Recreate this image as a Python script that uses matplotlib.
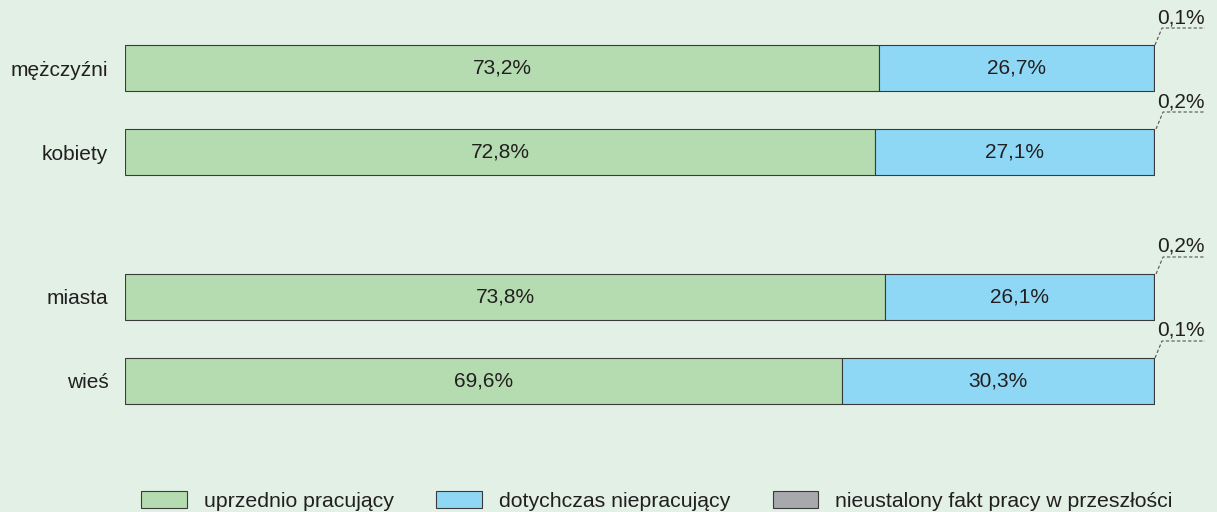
import matplotlib.pyplot as plt
from matplotlib.patches import Patch

categories = ["mężczyźni", "kobiety", "miasta", "wieś"]
worked_before = [73.2, 72.8, 73.8, 69.6]
never_worked = [26.7, 27.1, 26.1, 30.3]
unknown = [0.1, 0.2, 0.2, 0.1]
series_names = ["uprzednio pracujący", "dotychczas niepracujący",
                "nieustalony fakt pracy w przeszłości"]

BG = "#e2f0e6"
GREEN = "#b5dcb0"
BLUE = "#8ed8f6"
GRAY = "#a7a9ac"
EDGE = "#3a3a3a"
TEXT = "#231f20"
FS = 15

plt.rcParams["font.family"] = ["Liberation Sans", "DejaVu Sans"]

W, H = 1217, 512
fig = plt.figure(figsize=(W / 100, H / 100), dpi=100, facecolor=BG)
ax = fig.add_axes([125 / W, 0, (1155 - 125) / W, 1])
ax.set_facecolor(BG)

# bar positions in units of 84 px (row pitch), with a gap between groups
ypos = [0, 1, 2.726, 3.726]
bh = 46 / 84
ax.set_xlim(0, 100)
ax.set_ylim((H - 68) / 84, -68 / 84)

ax.barh(ypos, worked_before, height=bh, color=GREEN, edgecolor=EDGE, linewidth=0.8)
ax.barh(ypos, never_worked, left=worked_before, height=bh, color=BLUE,
        edgecolor=EDGE, linewidth=0.8)
left3 = [a + b for a, b in zip(worked_before, never_worked)]
ax.barh(ypos, unknown, left=left3, height=bh, color=GRAY, edgecolor=EDGE, linewidth=0.8)

for y, a, b in zip(ypos, worked_before, never_worked):
    ax.text(a / 2, y, f"{a:.1f}%".replace(".", ","), ha="center", va="center",
            fontsize=FS, color=TEXT)
    ax.text(a + b / 2, y, f"{b:.1f}%".replace(".", ","), ha="center", va="center",
            fontsize=FS, color=TEXT)

# small values: dashed leader line going up-right from the bar end
xpx = 100 / (1155 - 125)
for y, u, l in zip(ypos, unknown, left3):
    top = y - bh / 2
    x0 = l + u
    y1 = top - 17 / 84
    ax.plot([x0, x0 + 7 * xpx, (1205 - 125) * xpx], [top, y1, y1],
            color="#555555", linestyle=(0, (3, 2)), linewidth=0.8, clip_on=False)
    ax.text((1181 - 125) * xpx, y1 - 1 / 84, f"{u:.1f}%".replace(".", ","),
            ha="center", va="bottom", fontsize=FS, color=TEXT, clip_on=False)

ax.set_yticks(ypos)
ax.set_yticklabels(categories, fontsize=FS, color=TEXT)
ax.tick_params(axis="y", length=0, pad=12)
ax.set_xticks([])
for s in ax.spines.values():
    s.set_visible(False)

handles = [Patch(facecolor=c, edgecolor=EDGE, linewidth=0.8) for c in (GREEN, BLUE, GRAY)]
fig.legend(handles, series_names, ncol=3, loc="center", bbox_to_anchor=(657 / W, 1 - 501 / H),
           frameon=False, fontsize=15.3, handlelength=2.15, handleheight=0.85,
           handletextpad=0.8, columnspacing=2.0, labelcolor=TEXT)

fig.savefig("out.png", dpi=100, facecolor=BG)
